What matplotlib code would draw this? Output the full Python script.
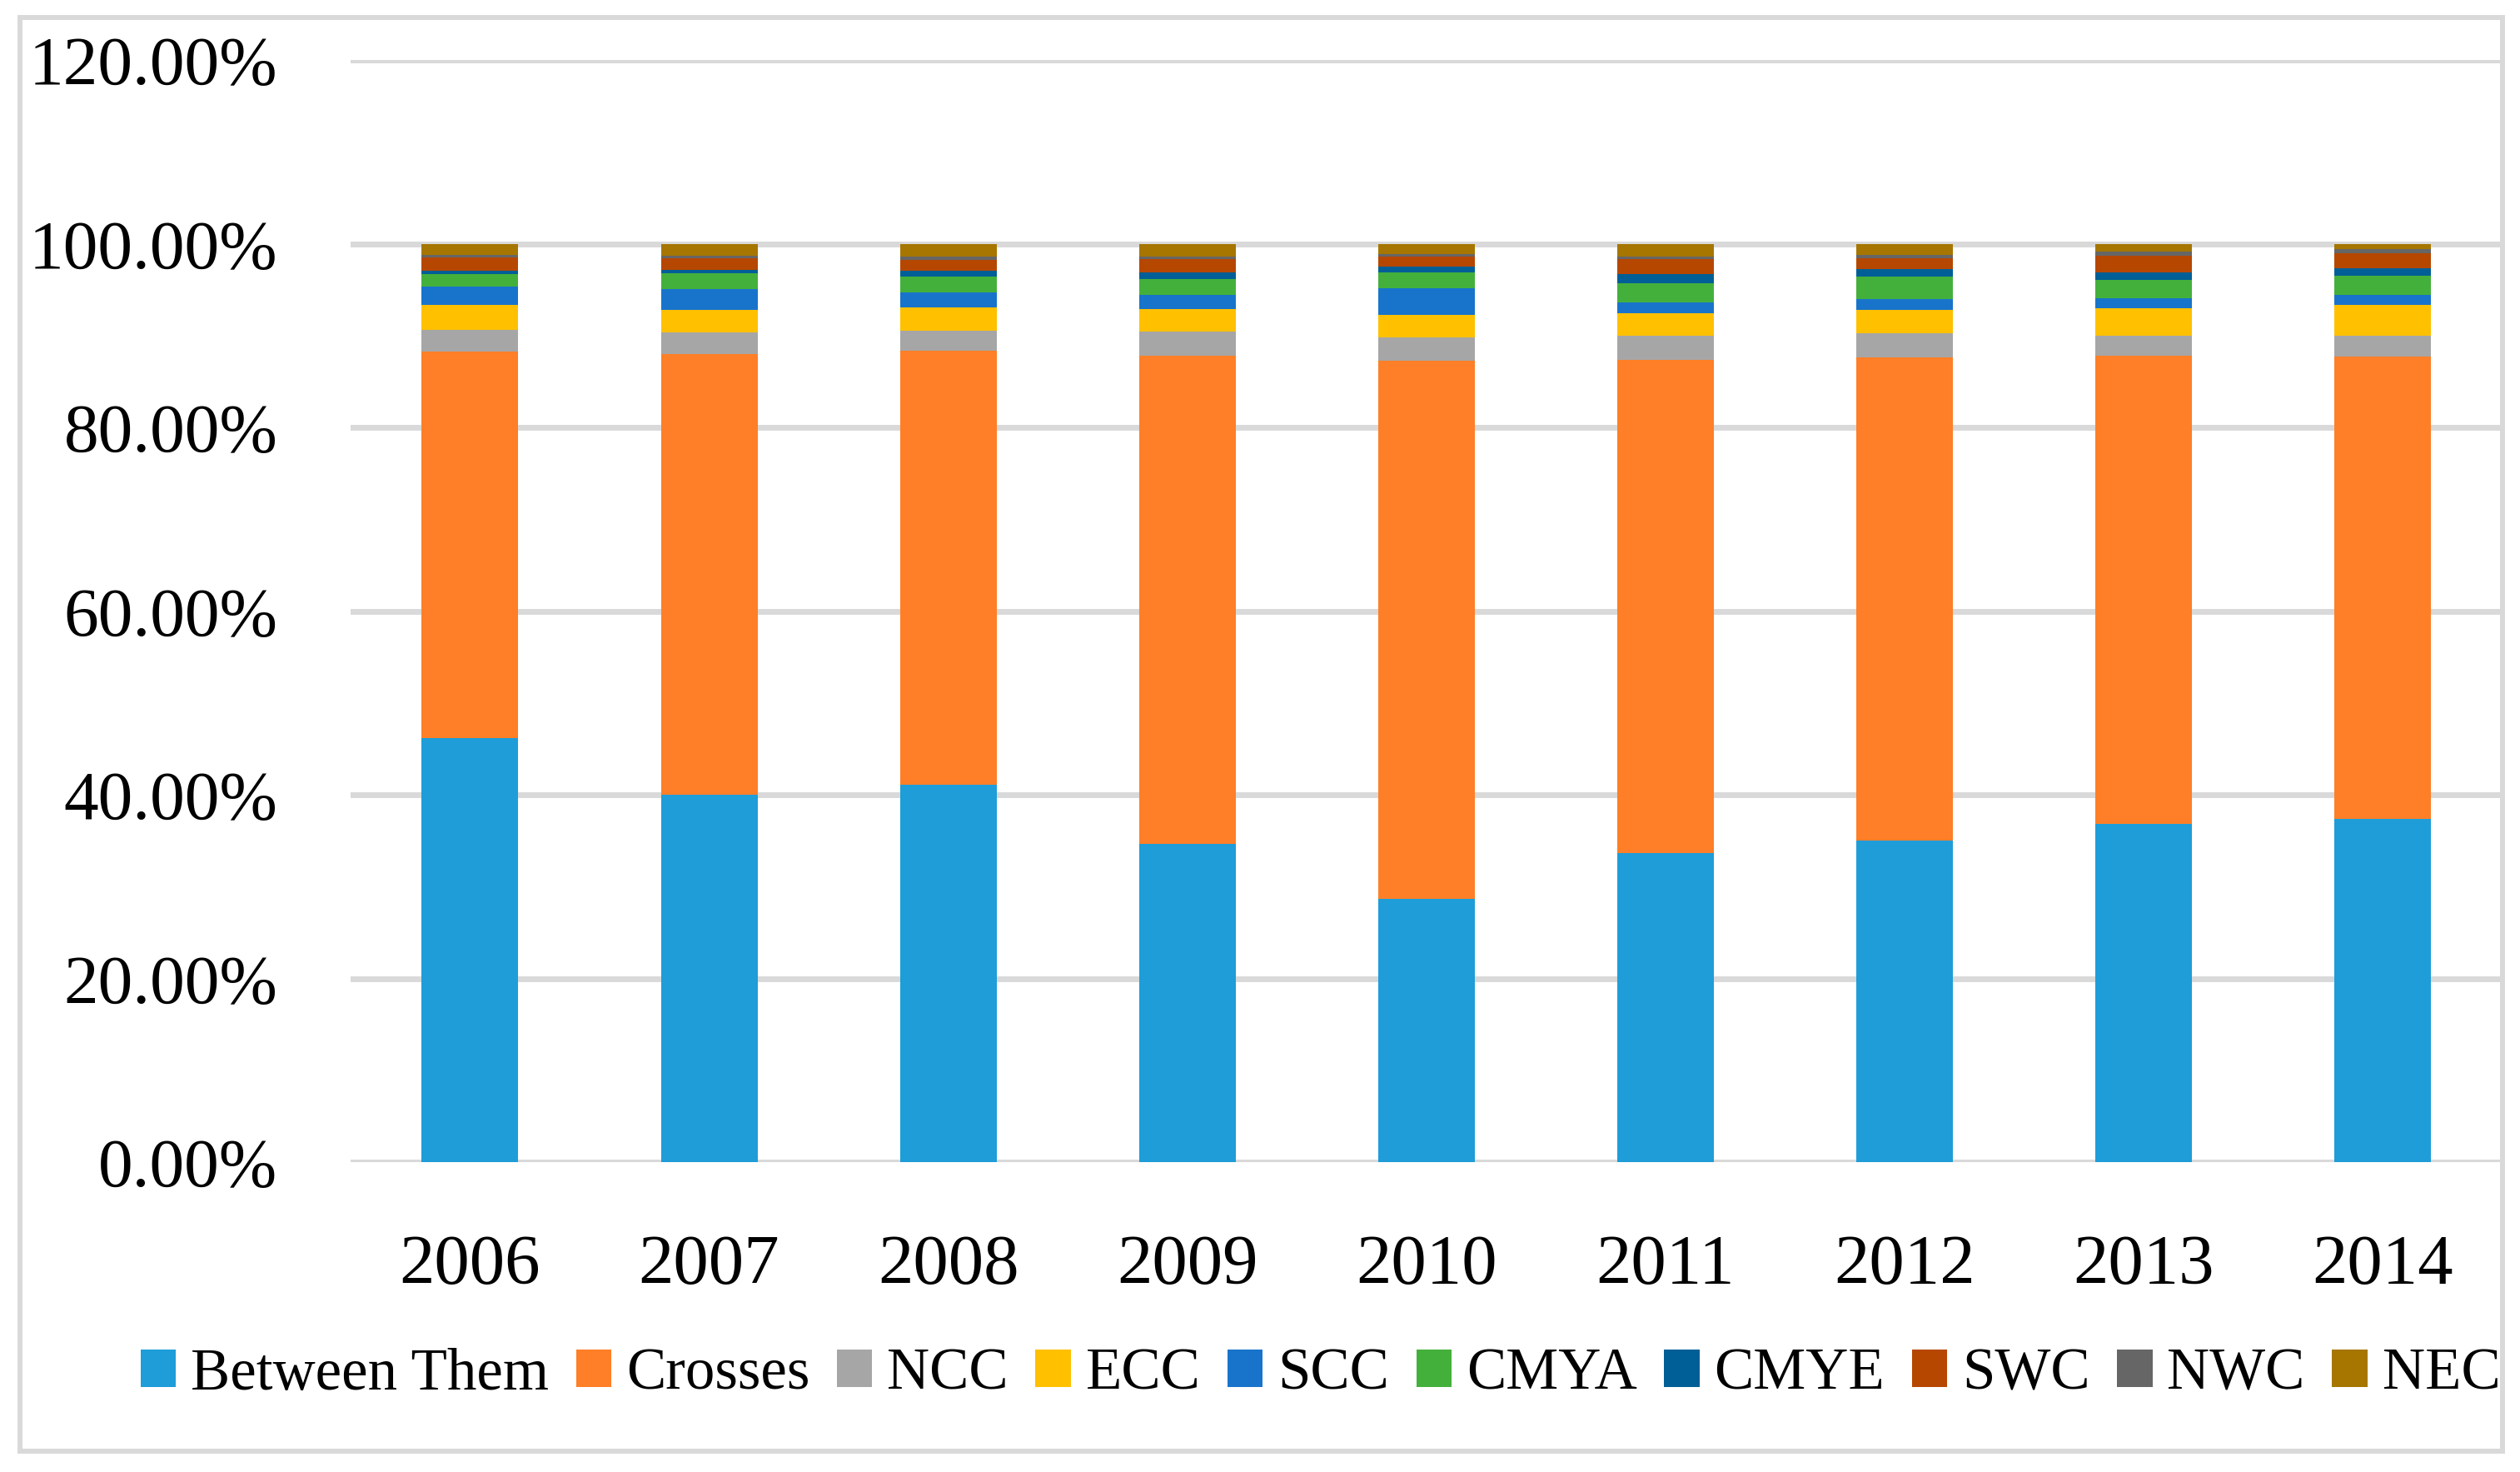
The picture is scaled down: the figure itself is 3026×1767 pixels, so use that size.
import numpy as np
import matplotlib
matplotlib.use('Agg')
import matplotlib.pyplot as plt
from matplotlib.patches import Rectangle
from matplotlib.ticker import FuncFormatter

plt.rcParams['font.family'] = ['Liberation Serif', 'DejaVu Serif']

years = ['2006', '2007', '2008', '2009', '2010', '2011', '2012', '2013', '2014']

# shares in percent, bottom to top
between_them = [46.2, 40.05, 41.1, 34.7, 28.7, 33.7, 35.1, 36.9, 37.4]
crosses = [42.13, 48.0, 47.32, 53.17, 58.63, 53.72, 52.59, 50.97, 50.38]
ncc = [2.28, 2.37, 2.10, 2.64, 2.55, 2.64, 2.64, 2.19, 2.28]
ecc = [2.74, 2.37, 2.55, 2.37, 2.37, 2.37, 2.46, 2.92, 3.28]
scc = [2.00, 2.28, 1.64, 1.55, 2.92, 1.19, 1.19, 1.09, 1.09]
cmya = [1.37, 1.73, 1.73, 1.73, 1.73, 2.10, 2.46, 2.00, 2.10]
cmye = [0.36, 0.36, 0.64, 0.73, 0.64, 1.00, 0.82, 0.82, 0.82]
swc = [1.43, 1.28, 1.22, 1.46, 1.09, 1.64, 1.19, 1.82, 1.64]
nwc = [0.30, 0.27, 0.33, 0.27, 0.27, 0.27, 0.36, 0.46, 0.46]
nec = [1.19, 1.28, 1.37, 1.37, 1.09, 1.37, 1.19, 0.82, 0.55]

series_names = ['Between Them', 'Crosses', 'NCC', 'ECC', 'SCC',
                'CMYA', 'CMYE', 'SWC', 'NWC', 'NEC']
series = [between_them, crosses, ncc, ecc, scc, cmya, cmye, swc, nwc, nec]
colors = ['#1e9dd9', '#fe7f27', '#a6a6a6', '#ffc000', '#1874cb',
          '#44b03c', '#005f96', '#b64700', '#666666', '#a67600']

fig = plt.figure(figsize=(30.26, 17.67), dpi=100)
ax = fig.add_axes([0.1391, 0.21025, 0.8538, 0.74874])

x = np.arange(len(years))
bottom = np.zeros(len(years))
for name, vals, c in zip(series_names, series, colors):
    vals = np.array(vals) / 100.0
    ax.bar(x, vals, width=0.404, bottom=bottom, color=c, label=name,
           linewidth=0, zorder=2)
    bottom += vals

ax.set_xlim(-0.5, len(years) - 0.5)
ax.set_ylim(0, 1.2)
ax.set_yticks(np.arange(0, 1.21, 0.2))
ax.yaxis.set_major_formatter(FuncFormatter(lambda v, p: '%.2f%%' % (v * 100)))
ax.set_xticks(x)
ax.set_xticklabels(years)
ax.tick_params(axis='y', length=0, pad=63, labelsize=60)
ax.tick_params(axis='x', length=0, pad=62, labelsize=61)
ax.grid(axis='y', color='#d9d9d9', linewidth=5)
ax.set_axisbelow(True)
for s in ax.spines.values():
    s.set_visible(False)

fig.legend(loc='center', bbox_to_anchor=(0.524, 0.066), ncol=10,
           frameon=False, fontsize=51, handlelength=0.6, handleheight=0.6,
           handletextpad=0.25, columnspacing=0.46, borderpad=0)

# chart area border
fig.add_artist(Rectangle((0.00793, 0.01415), 0.98517, 0.97395,
                         transform=fig.transFigure, fill=False,
                         edgecolor='#d9d9d9', linewidth=4.3, zorder=10))

fig.savefig('out.png', dpi=100)
